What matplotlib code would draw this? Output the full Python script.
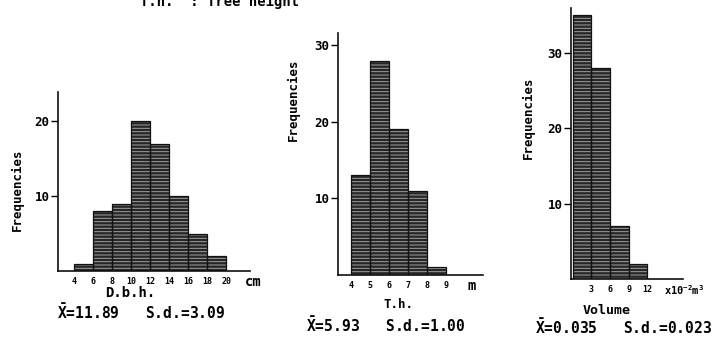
import matplotlib
matplotlib.use("Agg")
import matplotlib.pyplot as plt

# histogram data
dbh_edges = [4, 6, 8, 10, 12, 14, 16, 18, 20]
dbh_freq = [1, 8, 9, 20, 17, 10, 5, 2]

th_edges = [4, 5, 6, 7, 8, 9]
th_freq = [13, 28, 19, 11, 1]

vol_edges = [0, 3, 6, 9, 12]
vol_freq = [35, 28, 7, 2]
vol_ticks = [3, 6, 9, 12]

FONT = "DejaVu Sans Mono"
W, H = 724, 339

plt.rcParams["hatch.linewidth"] = 0.7
plt.rcParams["font.family"] = FONT
plt.rcParams["font.weight"] = "bold"
plt.rcParams["mathtext.fontset"] = "custom"
plt.rcParams["mathtext.rm"] = FONT + ":bold"
plt.rcParams["mathtext.it"] = FONT + ":bold"
plt.rcParams["mathtext.bf"] = FONT + ":bold"

fig = plt.figure(figsize=(W / 100, H / 100), dpi=100)
fig.patch.set_facecolor("white")


def px_axes(left, right, top, bottom):
    return fig.add_axes([left / W, (H - bottom) / H, (right - left) / W, (bottom - top) / H])


def histo(ax, edges, freq, xlim, ylim, yticks, xticks, unit, unit_dx, unit_size=10):
    lefts = edges[:-1]
    widths = [b - a for a, b in zip(edges[:-1], edges[1:])]
    ax.bar(lefts, freq, width=widths, align="edge", color="#262626",
           edgecolor="#a0a0a0", hatch="-----", linewidth=0)
    ax.bar(lefts, freq, width=widths, align="edge", fill=False,
           edgecolor="#111111", linewidth=0.9)
    ax.set_xlim(*xlim)
    ax.set_ylim(*ylim)
    for s in ("top", "right"):
        ax.spines[s].set_visible(False)
    for s in ("left", "bottom"):
        ax.spines[s].set_linewidth(1.2)
        ax.spines[s].set_color("#111111")
    ax.set_yticks(yticks)
    ax.tick_params(axis="y", length=5, width=1.0, labelsize=9, pad=1)
    ax.set_xticks(xticks)
    ax.set_xticklabels([str(t) for t in xticks])
    ax.tick_params(axis="x", length=0, labelsize=6, pad=4)
    ax.set_facecolor("none")
    ax.annotate(unit, xy=(xlim[1], 0), xycoords=("data", "axes fraction"),
                xytext=(unit_dx, -8), textcoords="offset points",
                ha="left", va="center", fontsize=unit_size)


ax1 = px_axes(58, 250, 92, 271)
histo(ax1, dbh_edges, dbh_freq, (2.3, 22.5), (0, 23.9), [10, 20], dbh_edges, "cm", -4)

ax2 = px_axes(338, 483, 33, 275)
histo(ax2, th_edges, th_freq, (3.3, 10.95), (0, 31.6), [10, 20, 30], th_edges, "m", -11)

ax3 = px_axes(571, 683, 8, 279)
histo(ax3, vol_edges, vol_freq, (-0.3, 17.8), (0, 35.9), [10, 20, 30], vol_ticks,
      r"x10$^{-2}$m$^{3}$", -14, unit_size=7.5)

# y labels
fig.text(17 / W, 1 - 190 / H, "Frequencies", rotation=90, ha="center", va="center", fontsize=9)
fig.text(293 / W, 1 - 100 / H, "Frequencies", rotation=90, ha="center", va="center", fontsize=9)
fig.text(528 / W, 1 - 118 / H, "Frequencies", rotation=90, ha="center", va="center", fontsize=9)

# x labels and statistics
XBAR = r"$\bar{\mathrm{X}}$"
fig.text(130 / W, 1 - 293 / H, "D.b.h.", ha="center", va="center", fontsize=10)
fig.text(141 / W, 1 - 312 / H, XBAR + "=11.89   S.d.=3.09", ha="center", va="center", fontsize=10.5)
fig.text(398 / W, 1 - 305 / H, "T.h.", ha="center", va="center", fontsize=9)
fig.text(386 / W, 1 - 325 / H, XBAR + "=5.93   S.d.=1.00", ha="center", va="center", fontsize=10.5)
fig.text(607 / W, 1 - 310 / H, "Volume", ha="center", va="center", fontsize=9.5)
fig.text(624 / W, 1 - 327 / H, XBAR + "=0.035   S.d.=0.023", ha="center", va="center", fontsize=10.5)

# top legend line, cut off by the page edge
fig.text(140 / W, 1 - 6 / H, "T.h.  : Tree height", ha="left", va="baseline", fontsize=10)

fig.savefig("out.png", dpi=100)
